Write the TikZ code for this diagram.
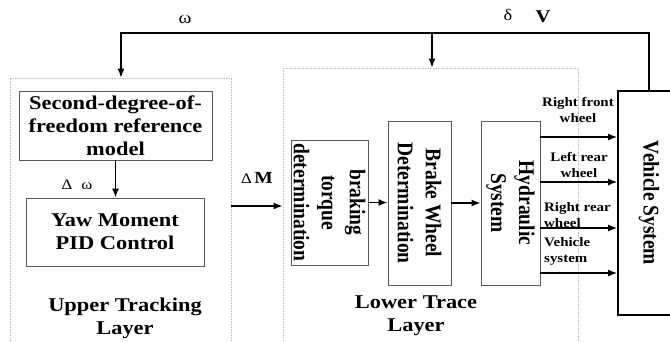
\documentclass[tikz,border=0pt]{standalone}
\usepackage{fontspec}
\setmainfont{Liberation Serif}[FakeStretch=1.15]
\newfontfamily\vfont{Liberation Serif}[FakeStretch=0.87]
\usetikzlibrary{arrows.meta}
\begin{document}
\begin{tikzpicture}[x=1pt,y=-1pt,
  layer/.style={draw=black!25, densely dotted, line width=0.6pt, inner sep=0pt},
  box/.style={draw=black!65, line width=0.8pt, inner sep=0pt, align=center, font=\fontsize{19.5}{23}\selectfont\bfseries},
  vbox/.style={draw=black!65, line width=0.8pt, inner sep=0pt, align=center, rotate=-90, font=\vfont\fontsize{22.4}{28}\selectfont\bfseries},
  vehbox/.style={draw=black, line width=1.6pt, inner sep=0pt, align=center, rotate=-90, font=\vfont\fontsize{22.4}{28}\selectfont\bfseries},
  lbl/.style={inner sep=0pt, align=center, font=\fontsize{19.5}{23}\selectfont\bfseries},
  wlbl/.style={inner sep=0pt, font=\fontsize{13}{16}\selectfont\bfseries},
  sym/.style={inner sep=0pt, font=\fontsize{16}{18}\selectfont},
  arr/.style={draw=black, line width=1.6pt, -{Latex[length=9pt,width=7pt]}}
]
\clip (0,0) rectangle (670,341);
\fill[white] (0,0) rectangle (670,341);

% layers
\node[layer, minimum width=221pt, minimum height=272pt] (upper) at (120.5,214) {};
\node[layer, minimum width=295pt, minimum height=282pt] (lower) at (430.5,209) {};

% blocks
\node[box, minimum width=193pt, minimum height=69pt] (sdof) at (115.5,125.5) {Second-degree-of-\\freedom reference\\model};
\node[box, minimum width=178pt, minimum height=68pt] (yaw) at (115,232) {Yaw Moment\\PID Control};
\node[vbox, minimum width=125pt, minimum height=77pt] (btd) at (329.5,202.5) {braking\\torque\\determination};
\node[vbox, minimum width=164pt, minimum height=63pt] (bwd) at (419.5,203) {Brake Wheel\\Determination};
\node[vbox, minimum width=164pt, minimum height=59pt] (hyd) at (510.5,203) {Hydraulic\\System};
\node[vehbox, minimum width=224pt, minimum height=62pt] (veh) at (649,203) {Vehicle System};

% layer labels
\node[lbl] (uptxt) at (125,318) {Upper Tracking\\Layer};
\node[lbl] (lowtxt) at (416,316) {Lower Trace\\Layer};

% wheel labels
\node[wlbl, align=center] (w1) at (578,110) {Right front\\wheel};
\node[wlbl, align=center] (w2) at (579,165) {Left rear\\wheel};
\node[wlbl, align=left, anchor=west] (w3) at (544,215.5) {Right rear\\wheel};
\node[wlbl, align=left, anchor=west] (w4) at (544,251.5) {Vehicle\\system};

% symbols
\node[sym, font=\fontsize{17}{18}\selectfont] (om) at (185,20) {ω};
\node[sym] (dl) at (508,15) {δ};
\node[sym, font=\fontsize{18}{20}\selectfont\bfseries] (vv) at (543,17) {V};
\node[sym, font=\fontsize{14.5}{16}\selectfont] (dom) at (77,185) {Δ\hspace{9pt}ω};
\node[sym] (dm) at (257,178) {{\fontsize{14.5}{16}\selectfont Δ}\,{\fontsize{17}{18}\selectfont\bfseries M}};

% connectors
\coordinate (fbL) at (121,33);
\coordinate (br) at (432,33);
\coordinate (dmy) at (0,206);
\coordinate (y1) at (0,137);
\coordinate (y2) at (0,182);
\coordinate (y3) at (0,228);
\coordinate (y4) at (0,273);

\draw[arr] (veh.west) |- (fbL) -- (fbL |- upper.north);
\draw[arr] (br) -- (br |- lower.north);
\draw[arr] (sdof.south) -- (sdof.south |- yaw.north);
\draw[arr] (upper.east |- dmy) -- (lower.west |- dmy);
\draw[arr] (btd.north) -- (btd.north -| bwd.south);
\draw[arr] (bwd.north) -- (bwd.north -| hyd.south);
\draw[arr] (hyd.north |- y1) -- (veh.south |- y1);
\draw[arr] (hyd.north |- y2) -- (veh.south |- y2);
\draw[arr] (hyd.north |- y3) -- (veh.south |- y3);
\draw[arr] (hyd.north |- y4) -- (veh.south |- y4);
\end{tikzpicture}
\end{document}
